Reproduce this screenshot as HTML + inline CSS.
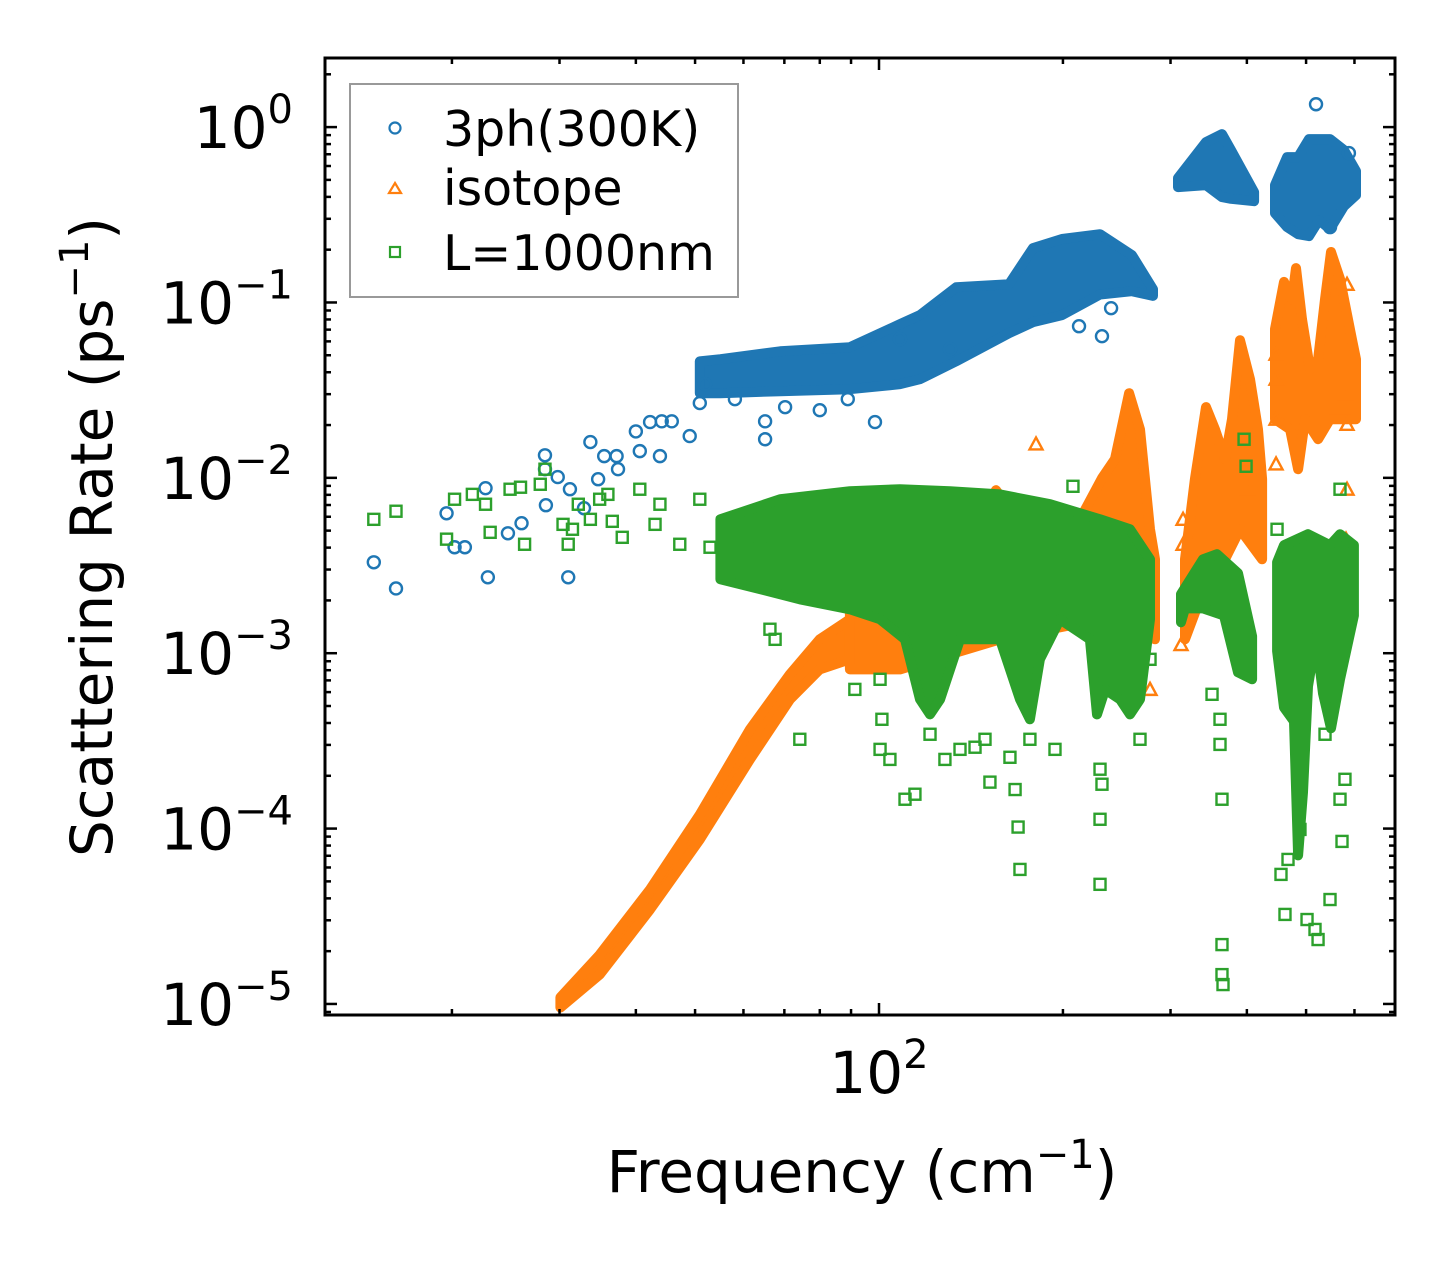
<!DOCTYPE html>
<html><head><meta charset="utf-8"><title>Scattering Rate</title>
<style>
html,body{margin:0;padding:0;background:#fff;}
svg{display:block;font-family:"DejaVu Sans","Liberation Sans",sans-serif;}
</style></head>
<body>
<svg id="chart" width="1455" height="1265" viewBox="0 0 1455 1265" xmlns="http://www.w3.org/2000/svg">
<rect x="0" y="0" width="1455" height="1265" fill="#fff"/>
<defs><clipPath id="plotclip"><rect x="325" y="58" width="1070" height="957"/></clipPath></defs>
<g id="plot" clip-path="url(#plotclip)"></g>
<g id="axes"></g>
<text x="862" y="1192" font-size="58" text-anchor="middle">Frequency (cm<tspan dy="-24" font-size="40">−1</tspan><tspan dy="24">)</tspan></text>
<text transform="translate(112,537) rotate(-90)" font-size="58" text-anchor="middle">Scattering Rate (ps<tspan dy="-24" font-size="40">−1</tspan><tspan dy="24">)</tspan></text>
<g>
<rect x="350" y="84" width="388" height="213" fill="#fff" fill-opacity="0.8" stroke="#999" stroke-width="2"/>
<circle cx="395" cy="128" r="5.5" fill="none" stroke="#1f77b4" stroke-width="2.2"/>
<text x="443" y="146" font-size="49">3ph(300K)</text>
<polygon points="395,183 401,193 389,193" fill="none" stroke="#ff7f0e" stroke-width="2.2"/>
<text x="443" y="205" font-size="49">isotope</text>
<rect x="390" y="247" width="10" height="10" fill="none" stroke="#2ca02c" stroke-width="2.2"/>
<text x="443" y="270" font-size="49">L=1000nm</text>
</g>
</svg>
<script>
// ---- axis ranges ----
const xLogMin = 1.0933, xLogMax = 2.8445;
const yLogMin = -5.063, yLogMax = 0.394;
const yMajorExps = [0, -1, -2, -3, -4, -5];
const xMajorVals = [100];
const xMinorVals = [20, 30, 40, 50, 60, 70, 80, 90, 200, 300, 400, 500, 600];

// ---- 3ph (blue) dense bands ----
const blueMainF  = [50.9, 55.0, 68.9, 89.6, 108.2, 116.7, 133.7, 163.2, 178.6, 199.3, 230.0, 259.5, 280.8];
const blueMainHi = [0.0462, 0.0475, 0.0527, 0.0556, 0.0752, 0.0847, 0.122, 0.127, 0.204, 0.230, 0.245, 0.186, 0.119];
const blueMainLo = [0.0304, 0.0304, 0.0312, 0.0320, 0.0342, 0.0365, 0.0462, 0.0668, 0.0772, 0.0847, 0.111, 0.116, 0.109];
const blueIsl1F  = [308.6, 342.9, 364.2, 376.8, 411.0];
const blueIsl1Hi = [0.512, 0.821, 0.912, 0.739, 0.426];
const blueIsl1Lo = [0.455, 0.467, 0.399, 0.390, 0.378];
const blueIsl2F  = [444.8, 465.4, 485.1, 505.6, 525.0, 547.2, 576.8, 603.4];
const blueIsl2Hi = [0.467, 0.674, 0.674, 0.854, 0.854, 0.854, 0.739, 0.561];
const blueIsl2Lo = [0.323, 0.269, 0.245, 0.239, 0.295, 0.262, 0.354, 0.409];
// ---- 3ph scattered points ----
const blueF = [14.9, 16.2, 19.6, 20.2, 21.0, 22.7, 22.9, 24.7, 26.0, 28.4, 28.4, 28.5, 29.8, 31.0, 31.2, 32.9, 33.7, 34.7, 35.5, 37.2, 37.4, 40.0, 40.6, 42.2, 43.8, 44.1, 45.8, 49.0, 50.9, 51.9, 58.1, 65.1, 65.1, 70.2, 80.0, 88.9, 98.5, 108.2, 130.7, 231.7, 212.5, 239.8, 519.1, 587.6, 547.2];
const blueR = [0.0033, 0.00234, 0.00628, 0.00402, 0.00402, 0.00873, 0.00271, 0.00483, 0.00551, 0.01345, 0.0112, 0.00698, 0.0101, 0.00271, 0.00861, 0.00671, 0.016, 0.00982, 0.0133, 0.0133, 0.0112, 0.0184, 0.0142, 0.0208, 0.0133, 0.021, 0.021, 0.0173, 0.0267, 0.0342, 0.0281, 0.021, 0.0166, 0.0253, 0.0243, 0.0281, 0.0208, 0.0618, 0.0542, 0.0642, 0.0732, 0.0928, 1.35, 0.711, 0.269];

// ---- isotope (orange) dense bands ----
const orRampF  = [30.1, 34.9, 42.2, 50.9, 61.5, 71.5, 80.0, 89.6];
const orRampHi = [1.09e-5, 1.91e-5, 4.5e-5, 1.2e-4, 3.68e-4, 7.59e-4, 1.2e-3, 1.56e-3];
const orRampLo = [9.55e-6, 1.47e-5, 3.46e-5, 8.67e-5, 2.48e-4, 5.46e-4, 8.09e-4, 9.23e-4];
const orMidHiF = [89.6, 100.4, 116.7, 123.5, 130.7, 136.7, 146.3, 155.4, 163.8, 174.0, 190.5, 213.3, 231.7, 243.4, 256.6, 267.4, 277.7, 283.0];
const orMidHi  = [2.03e-3, 3.43e-3, 6.62e-3, 7.55e-3, 5.8e-3, 6.89e-3, 5.8e-3, 8.5e-3, 6.62e-3, 5.88e-3, 5.43e-3, 5.8e-3, 9.95e-3, 0.0128, 0.0304, 0.0189, 5.09e-3, 3.43e-3];
const orMidLoF = [89.6, 108.2, 157.8, 230.0, 267.4, 283.0];
const orMidLo  = [8.09e-4, 8.09e-4, 1.2e-3, 1.56e-3, 2.03e-3, 1.2e-3];
const orPk1HiF = [316.8, 328.9, 342.9, 354.7, 368.4, 378.2, 389.8, 404.8, 417.2, 423.6];
const orPk1Hi  = [3.43e-3, 9.82e-3, 0.0253, 0.0189, 0.0128, 0.0216, 0.0609, 0.0365, 0.0189, 9.82e-3];
const orPk1LoF = [316.8, 335.2, 368.4, 389.8, 423.6];
const orPk1Lo  = [1.2e-3, 2.03e-3, 3.43e-3, 5.09e-3, 3.43e-3];
const orPk2HiF = [444.8, 460.1, 474.2, 481.4, 492.4, 507.5, 523.1, 537.0, 549.3, 568.2, 594.3, 603.4];
const orPk2Hi  = [0.0705, 0.131, 0.104, 0.157, 0.0803, 0.0417, 0.0475, 0.104, 0.194, 0.136, 0.0618, 0.0475];
const orPk2LoF = [444.8, 470.7, 485.1, 498.1, 523.1, 547.2, 578.9, 603.4];
const orPk2Lo  = [0.0216, 0.0189, 0.0112, 0.0216, 0.0166, 0.0216, 0.0216, 0.0216];
// ---- isotope scattered points ----
const orF = [180.7, 446.5, 446.5, 446.5, 446.5, 583.4, 581.2, 583.4, 401.8, 397.2, 314.5, 314.5, 312.1, 277.7, 583.4, 581.2];
const orR = [0.0156, 0.0507, 0.0365, 0.0216, 0.012, 0.00861, 0.00447, 0.0202, 0.00861, 0.0128, 0.0058, 0.00418, 0.00112, 0.000622, 0.127, 0.03];

// ---- L=1000nm (green) dense bands ----
const grMainHiF = [55.0, 68.9, 89.6, 108.2, 130.7, 157.8, 190.5, 230.0, 257.5, 277.7];
const grMainHi  = [5.8e-3, 7.55e-3, 8.39e-3, 8.61e-3, 8.39e-3, 8.05e-3, 7.07e-3, 5.8e-3, 5.09e-3, 3.43e-3];
const grMainLoF = [55.0, 63.9, 74.2, 89.6, 100.4, 110.3, 116.7, 121.2, 125.9, 135.7, 157.8, 170.1, 176.6, 183.4, 197.8, 221.4, 227.4, 234.4, 248.0, 257.5, 267.4, 277.7];
const grMainLo  = [2.64e-3, 2.32e-3, 2.03e-3, 1.78e-3, 1.56e-3, 1.2e-3, 5.46e-4, 4.48e-4, 5.46e-4, 1.2e-3, 1.2e-3, 5.46e-4, 4.2e-4, 9.23e-4, 1.56e-3, 1.2e-3, 4.48e-4, 6.22e-4, 5.46e-4, 4.48e-4, 5.46e-4, 1.56e-3];
const grIsl1HiF = [312.1, 339.0, 357.4, 386.9, 407.9];
const grIsl1Hi  = [2.17e-3, 3.43e-3, 3.67e-3, 2.86e-3, 1.25e-3];
const grIsl1LoF = [312.1, 316.8, 339.0, 367.0, 386.9, 407.9];
const grIsl1Lo  = [1.5e-3, 1.8e-3, 1.8e-3, 1.64e-3, 7.78e-4, 7.1e-4];
const grIsl2HiF = [448.2, 460.1, 503.7, 547.2, 568.2, 598.8];
const grIsl2Hi  = [3.3e-3, 4.13e-3, 4.77e-3, 4.13e-3, 4.77e-3, 4.13e-3];
const grIsl2LoF = [448.2, 460.1, 477.8, 485.1, 494.3, 503.7, 519.1, 533.0, 549.3, 568.2, 598.8];
const grIsl2Lo  = [1.03e-3, 4.91e-4, 4.09e-4, 7.03e-5, 1.61e-4, 6.48e-4, 1.23e-3, 5.9e-4, 3.73e-4, 7.1e-4, 1.64e-3];
// ---- L=1000nm scattered points ----
const grF = [14.9, 16.2, 19.6, 20.2, 21.6, 22.7, 23.1, 24.9, 25.9, 26.3, 27.9, 28.4, 30.4, 31.0, 31.5, 32.2, 33.7, 34.9, 36.0, 36.6, 38.0, 40.6, 43.0, 43.8, 47.2, 50.9, 52.9, 59.2, 63.9, 66.3, 67.6, 74.2, 91.3, 100.4, 101.1, 100.4, 104.2, 110.3, 114.5, 121.2, 128.2, 135.7, 143.6, 149.1, 151.9, 163.8, 167.0, 168.9, 170.1, 176.6, 194.1, 207.7, 230.0, 230.0, 231.7, 230.0, 267.4, 277.7, 350.8, 361.5, 361.5, 364.2, 365.6, 364.2, 364.2, 395.8, 398.8, 448.2, 454.9, 467.1, 461.8, 488.6, 501.8, 517.1, 523.1, 568.2, 568.2, 572.5, 578.9, 537.0, 547.2];
const grR = [5.8e-3, 6.45e-3, 4.47e-3, 7.55e-3, 8.05e-3, 7.07e-3, 4.89e-3, 8.61e-3, 8.84e-3, 4.18e-3, 9.19e-3, 0.0112, 5.43e-3, 4.18e-3, 5.09e-3, 7.07e-3, 5.8e-3, 7.55e-3, 8.05e-3, 5.65e-3, 4.58e-3, 8.61e-3, 5.43e-3, 7.07e-3, 4.18e-3, 7.55e-3, 4.02e-3, 2.64e-3, 3.92e-3, 1.37e-3, 1.2e-3, 3.23e-4, 6.22e-4, 7.1e-4, 4.2e-4, 2.83e-4, 2.48e-4, 1.47e-4, 1.57e-4, 3.45e-4, 2.48e-4, 2.83e-4, 2.91e-4, 3.23e-4, 1.84e-4, 2.55e-4, 1.67e-4, 1.02e-4, 5.85e-5, 3.23e-4, 2.83e-4, 8.95e-3, 1.13e-4, 2.18e-4, 1.79e-4, 4.81e-5, 3.23e-4, 9.23e-4, 5.83e-4, 4.2e-4, 3.02e-4, 1.47e-4, 1.29e-5, 1.47e-5, 2.18e-5, 0.0166, 0.01164, 5.09e-3, 5.48e-5, 6.67e-5, 3.24e-5, 9.89e-5, 3.03e-5, 2.66e-5, 2.33e-5, 8.61e-3, 1.47e-4, 8.45e-5, 1.91e-4, 3.45e-4, 3.94e-5];

// ---- drawing ----
const NS = 'http://www.w3.org/2000/svg';
const X0 = 325, X1 = 1395, Y0 = 58, Y1 = 1015;
function sx(f){ return X0 + (Math.log10(f) - xLogMin) / (xLogMax - xLogMin) * (X1 - X0); }
function sy(r){ return Y1 - (Math.log10(r) - yLogMin) / (yLogMax - yLogMin) * (Y1 - Y0); }
const plot = document.getElementById('plot');
const axes = document.getElementById('axes');
const BLUE = '#1f77b4', ORANGE = '#ff7f0e', GREEN = '#2ca02c';

function band(hiF, hi, loF, lo, color, name){
  const pts = [];
  for (let i = 0; i < hiF.length; i++) pts.push(sx(hiF[i]).toFixed(1) + ',' + sy(hi[i]).toFixed(1));
  for (let i = loF.length - 1; i >= 0; i--) pts.push(sx(loF[i]).toFixed(1) + ',' + sy(lo[i]).toFixed(1));
  const p = document.createElementNS(NS, 'polygon');
  p.setAttribute('points', pts.join(' '));
  p.setAttribute('fill', color);
  p.setAttribute('stroke', color);
  p.setAttribute('stroke-width', '10');
  p.setAttribute('stroke-linejoin', 'round');
  
  
  plot.appendChild(p);
}
function marker(kind, f, r, color){
  const x = sx(f), y = sy(r);
  let el;
  if (kind === 'circle') {
    el = document.createElementNS(NS, 'circle');
    el.setAttribute('cx', x); el.setAttribute('cy', y); el.setAttribute('r', 6);
  } else if (kind === 'tri') {
    el = document.createElementNS(NS, 'polygon');
    el.setAttribute('points', x + ',' + (y - 6.5) + ' ' + (x + 6.5) + ',' + (y + 5.5) + ' ' + (x - 6.5) + ',' + (y + 5.5));
  } else {
    el = document.createElementNS(NS, 'rect');
    el.setAttribute('x', x - 5.5); el.setAttribute('y', y - 5.5);
    el.setAttribute('width', 11); el.setAttribute('height', 11);
  }
  el.setAttribute('fill', 'none');
  el.setAttribute('stroke', color);
  el.setAttribute('stroke-width', '2.4');
  
  
  plot.appendChild(el);
}

// 3ph
band(blueMainF, blueMainHi, blueMainF, blueMainLo, BLUE, '3ph-dense-main');
band(blueIsl1F, blueIsl1Hi, blueIsl1F, blueIsl1Lo, BLUE, '3ph-dense-island-1');
band(blueIsl2F, blueIsl2Hi, blueIsl2F, blueIsl2Lo, BLUE, '3ph-dense-island-2');
for (let i = 0; i < blueF.length; i++) marker('circle', blueF[i], blueR[i], BLUE);
// isotope
band(orRampF, orRampHi, orRampF, orRampLo, ORANGE, 'isotope-dense-ramp');
band(orMidHiF, orMidHi, orMidLoF, orMidLo, ORANGE, 'isotope-dense-middle');
band(orPk1HiF, orPk1Hi, orPk1LoF, orPk1Lo, ORANGE, 'isotope-dense-peak-1');
band(orPk2HiF, orPk2Hi, orPk2LoF, orPk2Lo, ORANGE, 'isotope-dense-peak-2');
for (let i = 0; i < orF.length; i++) marker('tri', orF[i], orR[i], ORANGE);
// boundary
band(grMainHiF, grMainHi, grMainLoF, grMainLo, GREEN, 'boundary-dense-main');
band(grIsl1HiF, grIsl1Hi, grIsl1LoF, grIsl1Lo, GREEN, 'boundary-dense-island-1');
band(grIsl2HiF, grIsl2Hi, grIsl2LoF, grIsl2Lo, GREEN, 'boundary-dense-island-2');
for (let i = 0; i < grF.length; i++) marker('sq', grF[i], grR[i], GREEN);

// ---- axes ----
function line(x1, y1, x2, y2, w, name){
  const l = document.createElementNS(NS, 'line');
  l.setAttribute('x1', x1); l.setAttribute('y1', y1); l.setAttribute('x2', x2); l.setAttribute('y2', y2);
  l.setAttribute('stroke', '#000'); l.setAttribute('stroke-width', w);
  
  
  axes.appendChild(l);
}
for (let e = 1; e >= -6; e--) {
  for (let m = 1; m <= 9; m++) {
    const v = m * Math.pow(10, e);
    const lv = Math.log10(v);
    if (lv < yLogMin || lv > yLogMax) continue;
    const y = sy(v);
    const len = m === 1 ? 12 : 6;
    line(X0, y, X0 + len, y, 2.5, m === 1 ? 'y-major-tick' : 'y-minor-tick');
    line(X1, y, X1 - len, y, 2.5, m === 1 ? 'y-major-tick-right' : 'y-minor-tick-right');
  }
}
for (const e of yMajorExps) {
  const y = sy(Math.pow(10, e));
  const t = document.createElementNS(NS, 'text');
  t.setAttribute('x', 293); t.setAttribute('y', y + 21);
  t.setAttribute('font-size', '58'); t.setAttribute('text-anchor', 'end');
  
  
  const sup = e === 0 ? '0' : '−' + (-e);
  t.innerHTML = '10<tspan dy="-25" font-size="40">' + sup + '</tspan>';
  axes.appendChild(t);
}
for (const v of xMinorVals) {
  const x = sx(v);
  line(x, Y1, x, Y1 - 6, 2.5, 'x-minor-tick');
  line(x, Y0, x, Y0 + 6, 2.5, 'x-minor-tick-top');
}
for (const v of xMajorVals) {
  const x = sx(v);
  line(x, Y1, x, Y1 - 12, 2.5, 'x-major-tick');
  line(x, Y0, x, Y0 + 12, 2.5, 'x-major-tick-top');
  const t = document.createElementNS(NS, 'text');
  t.setAttribute('x', x); t.setAttribute('y', 1093);
  t.setAttribute('font-size', '58'); t.setAttribute('text-anchor', 'middle');
  
  
  t.innerHTML = '10<tspan dy="-25" font-size="40">' + Math.round(Math.log10(v)) + '</tspan>';
  axes.appendChild(t);
}
const fr = document.createElementNS(NS, 'rect');
fr.setAttribute('x', X0); fr.setAttribute('y', Y0); fr.setAttribute('width', X1 - X0); fr.setAttribute('height', Y1 - Y0);
fr.setAttribute('fill', 'none'); fr.setAttribute('stroke', '#000'); fr.setAttribute('stroke-width', '3');


axes.appendChild(fr);
</script>
</body></html>
